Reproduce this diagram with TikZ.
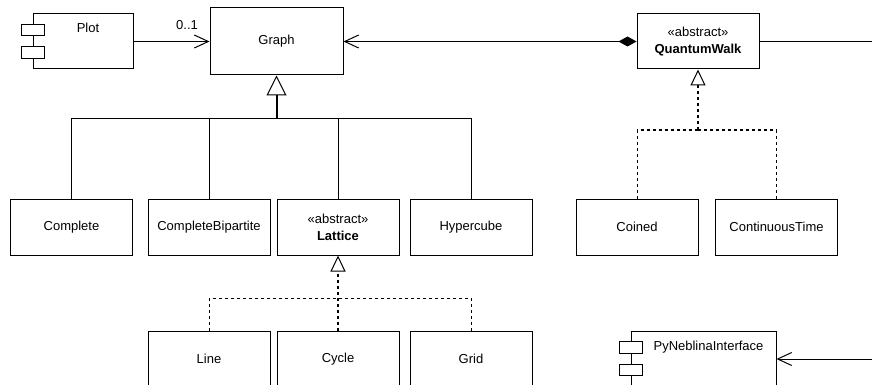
\documentclass[tikz,border=0pt]{standalone}
\usepackage{fontspec}
\setmainfont{Liberation Sans}
\usetikzlibrary{arrows.meta}
\begin{document}
\begin{tikzpicture}[x=1pt,y=-1pt,
  box/.style={draw, line width=1pt, minimum width=122pt, minimum height=56pt, inner sep=0pt,
    font=\fontsize{13}{17}\selectfont, align=center, fill=white},
  ear/.style={draw, line width=1pt, fill=white, minimum width=23pt, minimum height=11.5pt, inner sep=0pt},
  lbl/.style={inner sep=0pt, font=\fontsize{13}{17}\selectfont},
  conn/.style={line width=1pt},
  dashedconn/.style={line width=1pt, dash pattern=on 3pt off 3pt},
  gen/.style={-{Triangle[open, length=16pt, width=15pt, line width=1pt]}},
  biggen/.style={-{Triangle[open, length=20pt, width=20pt, line width=1pt]}},
  assoc/.style={-{Straight Barb[length=14pt, width=13pt, line width=1pt]}},
]
\useasboundingbox (0,0) rectangle (872,385);
\fill[white] (0,0) rectangle (872,385);
\clip (0,0) rectangle (872,385);

% top row
\node[box, minimum width=133pt, minimum height=67pt] (graph) at (276.5,41.5) {Graph};
\node[box, minimum width=100pt, minimum height=55pt] (plot) at (83,41.5) {};
\node[ear] (plotearA) at (plot.west |- 0,30) {};
\node[ear] (plotearB) at (plot.west |- 0,52.5) {};
\node[lbl] (plotlabel) at (88,28) {Plot};
\node[lbl] (mult) at (187,25) {0..1};
\node[box, minimum height=55pt] (qw) at (698,41.5) {«abstract»\\\textbf{QuantumWalk}};

% second row
\node[box] (complete) at (71.5,227) {Complete};
\node[box] (bip) at (209,227) {CompleteBipartite};
\node[box] (lattice) at (338,227) {«abstract»\\\textbf{Lattice}};
\node[box] (hyper) at (471,227) {Hypercube};
\node[box] (coined) at (637,227) {Coined};
\node[box] (ctime) at (776.5,227) {ContinuousTime};

% third row
\node[box] (line) at (209,359) {Line};
\node[box] (cycle) at (338,359) {Cycle};
\node[box] (grid) at (471,359) {Grid};
\node[box, minimum width=145pt, minimum height=55pt] (pyneb) at (703.5,359) {};
\node[ear] (pyearA) at (pyneb.west |- 0,347.5) {};
\node[ear] (pyearB) at (pyneb.west |- 0,370) {};
\node[lbl] (pylabel) at (708.5,347) {PyNeblinaInterface};

% associations
\draw[conn, assoc] (plot.east) -- (graph.west);
\draw[conn, {Diamond[length=18pt, width=10pt]}-{Straight Barb[length=14pt, width=13pt, line width=1pt]}] (qw.west) -- (graph.east);
\coordinate (qwout) at (872,41.5);
\draw[conn] (qw.east) -- (qwout);
\coordinate (pyin) at (872,359);
\draw[conn, assoc] (pyin) -- (pyneb.east);

% generalization to Graph
\coordinate (gj) at (graph.south |- 0,119);
\draw[conn] (complete.north) |- (gj);
\draw[conn] (bip.north) |- (gj);
\draw[conn] (lattice.north) |- (gj);
\draw[conn] (hyper.north) |- (gj);
\draw[line width=2pt, biggen] (gj) -- (graph.south);

% realization to Lattice
\coordinate (lj) at (lattice.south |- 0,298);
\draw[dashedconn] (line.north) |- (lj);
\draw[dashedconn] (grid.north) |- (lj);
\draw[dashedconn, line width=1.4pt, gen] (cycle.north) -- (lattice.south);

% realization to QuantumWalk
\coordinate (qj) at (qw.south |- 0,130);
\draw[dashedconn] (coined.north) |- (qj);
\draw[dashedconn] (ctime.north) |- (qj);
\draw[dashedconn, line width=1.4pt, gen] (qj) -- (qw.south);
\end{tikzpicture}
\end{document}
